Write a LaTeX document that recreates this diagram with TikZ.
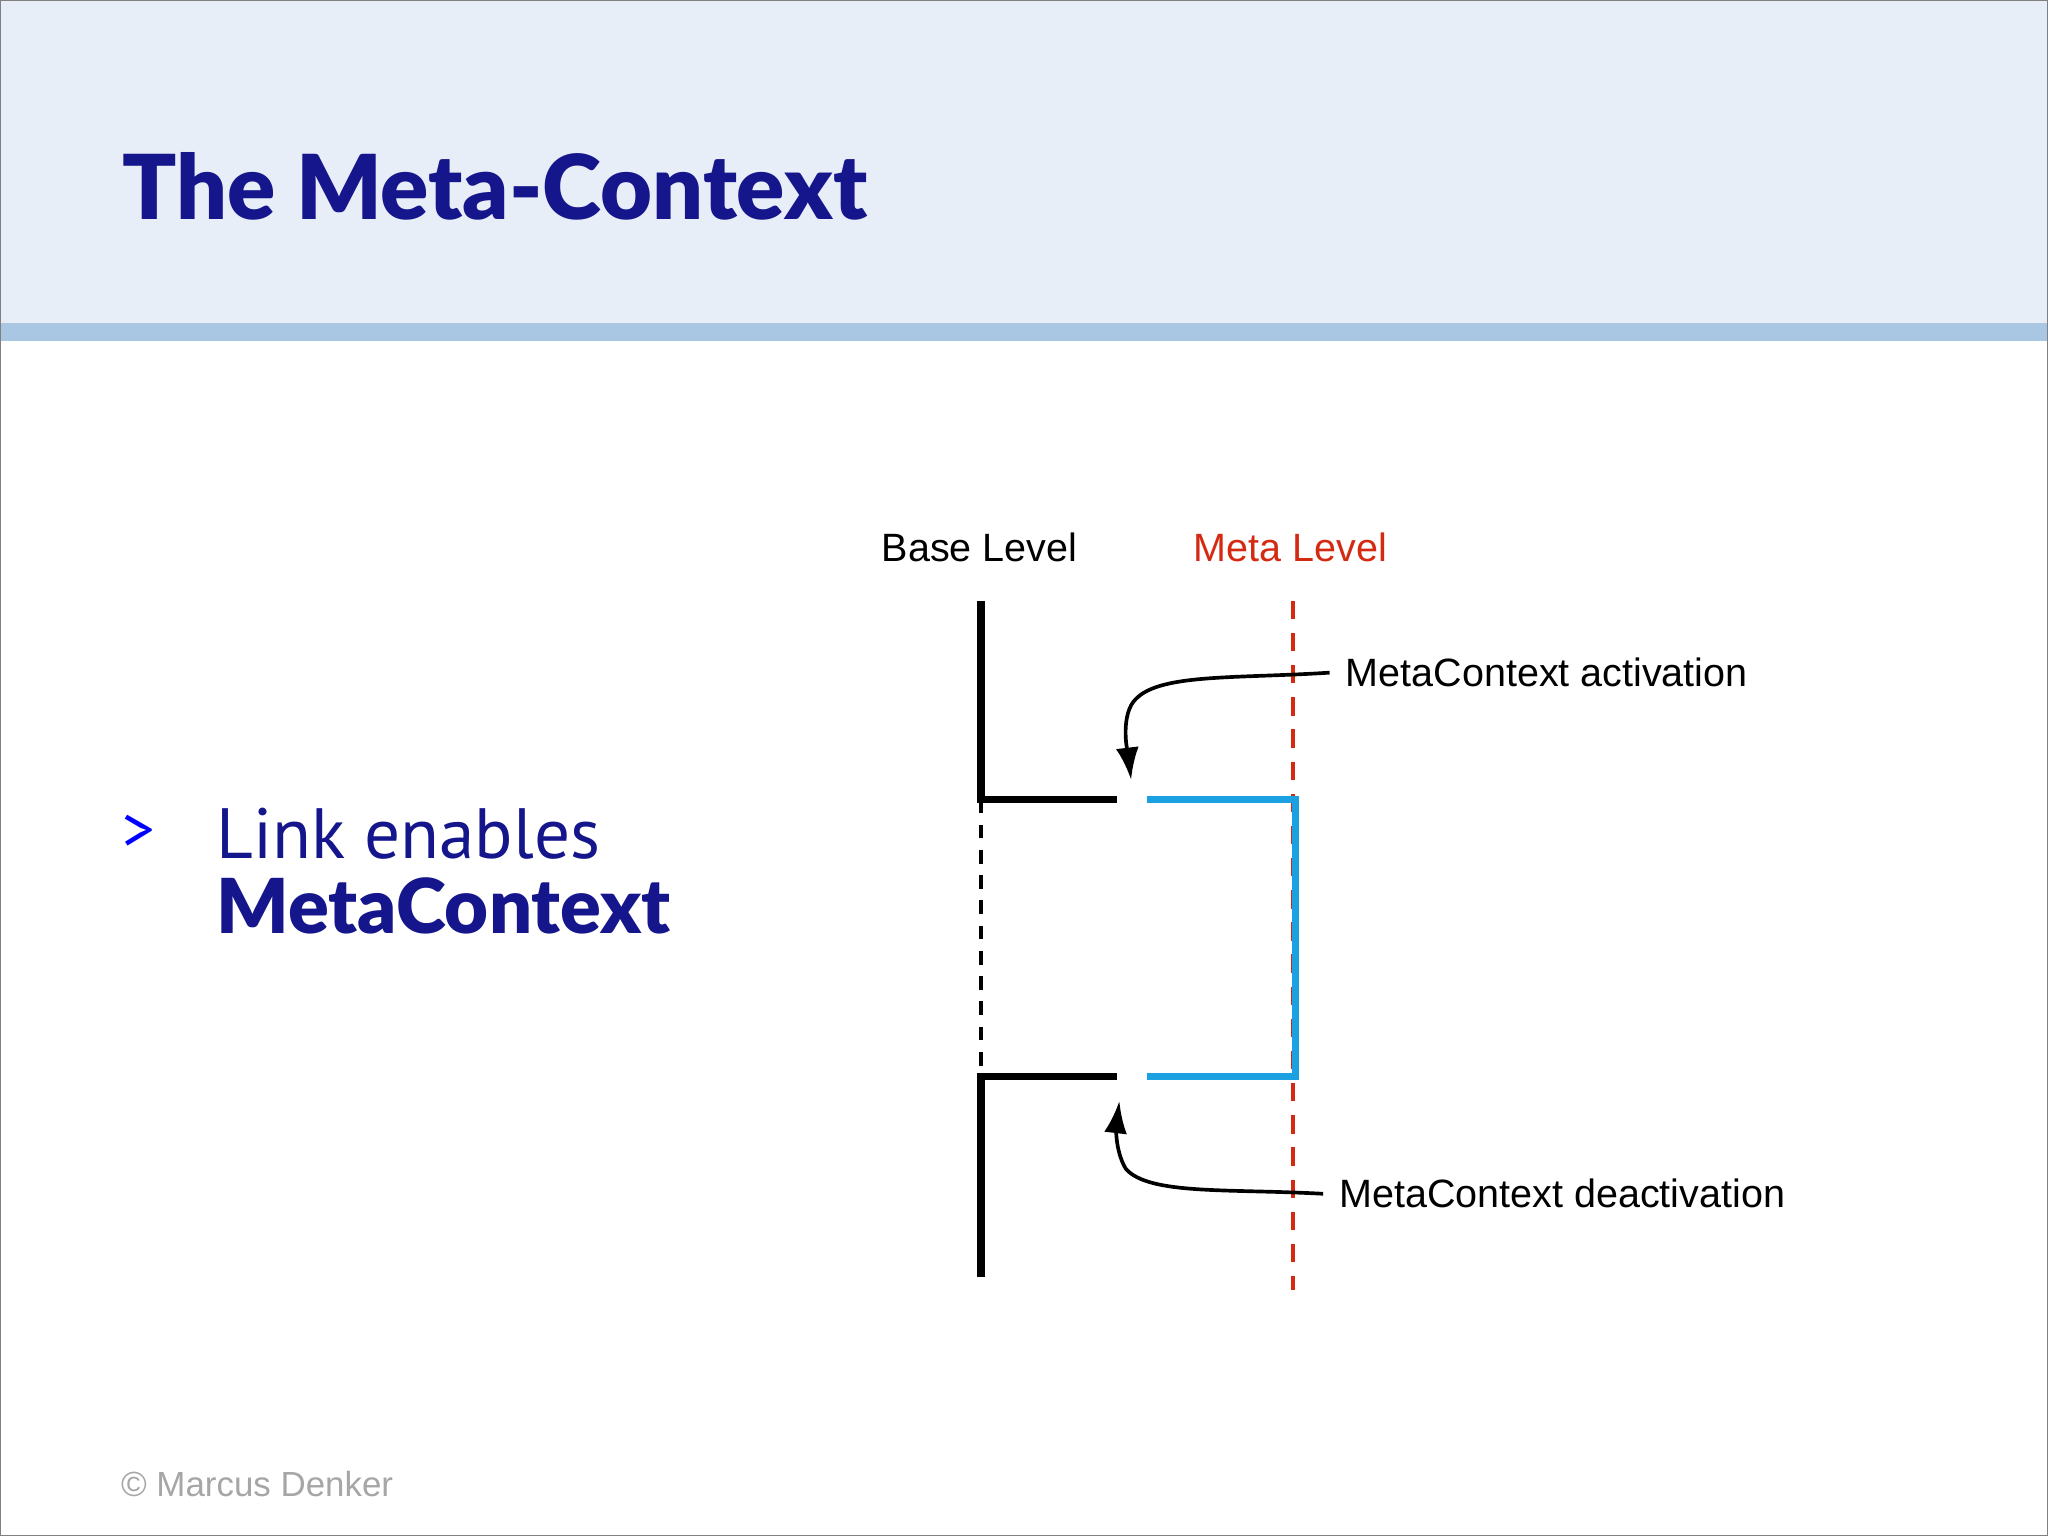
\documentclass[tikz,border=0pt]{standalone}
\usepackage{fontspec}
\setmainfont{Liberation Sans}
\newfontfamily\titlefont{Lato Black}
\newfontfamily\bodyfont{PT Sans}
\usetikzlibrary{arrows.meta}
\definecolor{navy}{HTML}{15168C}
\definecolor{headbg}{HTML}{E8EEF8}
\definecolor{stripe}{HTML}{A9C7E3}
\definecolor{metablue}{HTML}{1BA1E2}
\definecolor{metared}{HTML}{D42A12}
\begin{document}
\begin{tikzpicture}[x=0.01cm,y=-0.01cm,
  lbl/.style={font=\fontsize{8.6}{10}\selectfont},
  base/.style={line width=1.6pt,black},
  meta/.style={line width=1.6pt,metablue},
  arr/.style={line width=0.8pt,-{Latex[length=7pt,width=5pt]}}]
\useasboundingbox (0,0) rectangle (1568,1176);
\fill[headbg] (0,0) rectangle (1568,247);
\fill[stripe] (0,247) rectangle (1568,261);
\draw[gray,line width=0.6pt] (0,0) rectangle (1568,1176);
\node[anchor=base west,inner sep=0,text=navy,font=\titlefont\fontsize{19.5}{22}\selectfont] (title) at (93,168) {The Meta-Context};
\node[anchor=base west,inner sep=0,text=blue,font=\bodyfont\fontsize{14}{18}\selectfont] (bul) at (93,652) {>};
\node[anchor=base west,inner sep=0,text=navy,font=\bodyfont\fontsize{15.5}{20}\selectfont] (l1) at (165,657) {Link enables};
\node[anchor=base west,inner sep=0,text=navy,font=\titlefont\fontsize{16.5}{20}\selectfont] (l2) at (165,715) {MetaContext};
\node[lbl] (bl) at (750,419) {Base Level};
\node[lbl,text=metared] (ml) at (988,419) {Meta Level};
\coordinate (t) at (751,460); \coordinate (a) at (751,612); \coordinate (a2) at (855,612);
\coordinate (b) at (751,824); \coordinate (b2) at (855,824); \coordinate (bb) at (751,978);
\coordinate (m1) at (878,612); \coordinate (m2) at (992,612); \coordinate (m3) at (992,824); \coordinate (m4) at (878,824);
\coordinate (r1) at (990,460); \coordinate (r2) at (990,988);
\draw[metared,line width=1pt,dash pattern=on 4pt off 3pt] (r1) -- (r2);
\draw[base] (t) -- (a) -- (a2);
\draw[black,line width=1pt,dash pattern=on 3pt off 2.5pt] (a) -- (b);
\draw[base] (b2) -- (b) -- (bb);
\draw[meta] (m1) -- (m2) -- (m3) -- (m4);
\node[lbl,anchor=west] (act) at (1018,515) {MetaContext activation};
\node[lbl,anchor=west] (deact) at (1013,914) {MetaContext deactivation};
\coordinate (ae) at (866,597); \coordinate (de) at (857,843);
\draw[arr] (act.west) .. controls (940,520) and (880,515) .. (866,540) .. controls (858,555) and (864,580) .. (ae);
\draw[arr] (deact.west) .. controls (940,910) and (880,915) .. (862,895) .. controls (853,880) and (855,860) .. (de);
\node[anchor=base west,inner sep=0,text=gray!70,font=\fontsize{7.6}{10}\selectfont] (foot) at (92,1146) {© Marcus Denker};
\end{tikzpicture}
\end{document}
